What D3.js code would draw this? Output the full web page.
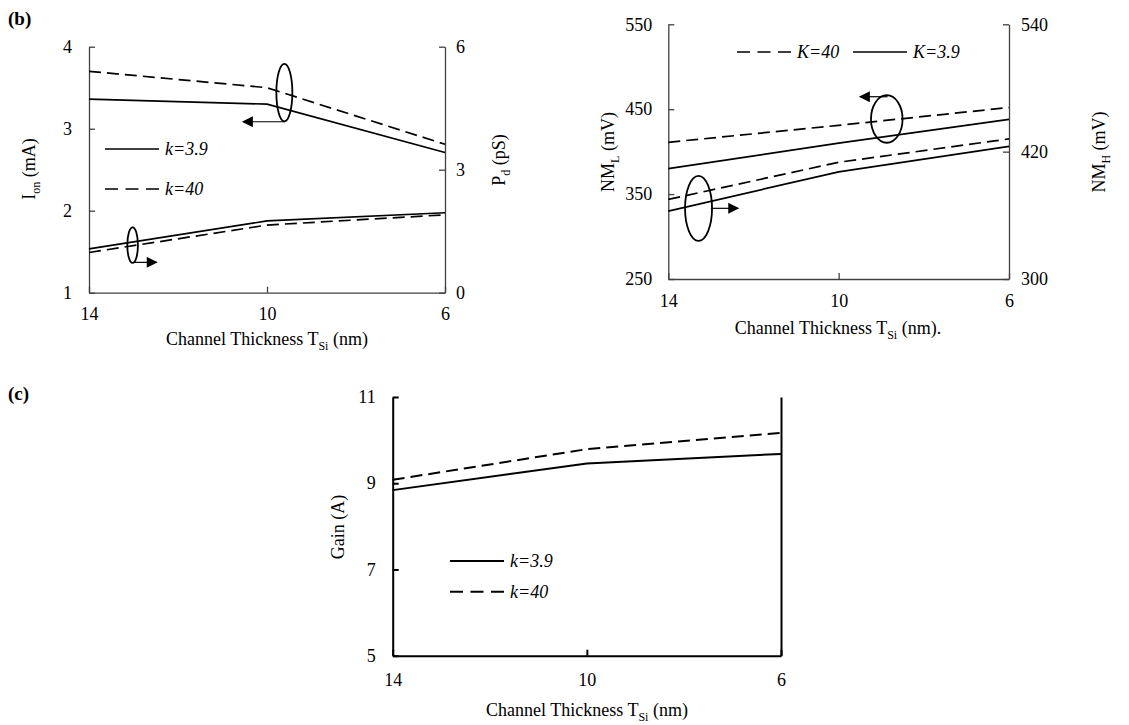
<!DOCTYPE html>
<html>
<head>
<meta charset="utf-8">
<script src="https://cdn.jsdelivr.net/npm/d3@7"></script>
<style>
  body { margin: 0; background: #fff; }
  svg { display: block; }
  text { font-family: "Liberation Serif", "Times New Roman", serif; }
</style>
</head>
<body>
<svg></svg>
<script>
// ---- DATA ----
const thickness = [14, 10, 6];
const xTicks = [14, 10, 6];

// (b) left: on-current (left axis) and delay (right axis)
const ionK39 = [3.36, 3.30, 2.71];
const ionK40 = [3.70, 3.50, 2.81];
const pdK39 = [1.07, 1.75, 1.95];
const pdK40 = [0.98, 1.65, 1.90];
const ionTicks = [1, 2, 3, 4];
const pdTicks = [0, 3, 6];

// (b) right: noise margins
const nmlK40 = [411, 431, 452];
const nmlK39 = [380, 410, 438];
const nmhK40 = [375, 410, 432];
const nmhK39 = [364, 401, 425];
const nmlTicks = [250, 350, 450, 550];
const nmhTicks = [300, 420, 540];

// (c) gain
const gainK39 = [8.84, 9.46, 9.68];
const gainK40 = [9.08, 9.79, 10.17];
const gainTicks = [5, 7, 9, 11];

const svg = d3.select("svg").attr("width", 1129).attr("height", 725);

const FS = 18;
const DASH = "12,6";
const LEG_DASH = "13,7.5";
const fmt = d3.format("d");

svg.append("defs").append("marker")
    .attr("id", "arrow")
    .attr("viewBox", "0 0 10 10")
    .attr("refX", 9).attr("refY", 5)
    .attr("markerUnits", "userSpaceOnUse")
    .attr("markerWidth", 12).attr("markerHeight", 11)
    .attr("orient", "auto")
    .append("path")
    .attr("d", "M0,0L10,5L0,10Z")
    .attr("fill", "#000");

// ---- HELPERS ----
function styleAxis(sel, color, width) {
    sel.attr("font-family", null).attr("font-size", FS);
    sel.select(".domain").attr("stroke", color).attr("stroke-width", width);
    sel.selectAll(".tick line").attr("stroke", color).attr("stroke-width", width);
    sel.selectAll(".tick text").attr("fill", "#000");
}

// parts: [text, isSub]
function richText(g, parts, x, y, rotate) {
    const t = g.append("text")
        .attr("font-size", FS)
        .attr("text-anchor", "middle")
        .attr("transform", rotate ? `translate(${x},${y}) rotate(-90)` : `translate(${x},${y})`);
    parts.forEach(([s, sub]) => {
        t.append("tspan")
            .attr("font-size", sub ? 12 : FS)
            .attr("dy", sub ? 5 : (t.selectAll("tspan").size() > 1 ? -5 : 0))
            .text(s);
    });
    return t;
}

function drawLine(g, x, y, vals, dashed, w) {
    g.append("path")
        .datum(vals)
        .attr("fill", "none")
        .attr("stroke", "#000")
        .attr("stroke-width", w)
        .attr("stroke-dasharray", dashed ? DASH : null)
        .attr("d", d3.line().x((d, i) => x(thickness[i])).y(d => y(d)));
}

function legendItem(g, x0, y0, dashed, label, w) {
    g.append("line")
        .attr("x1", x0).attr("x2", x0 + 54)
        .attr("y1", y0).attr("y2", y0)
        .attr("stroke", "#000").attr("stroke-width", w)
        .attr("stroke-dasharray", dashed ? LEG_DASH : null);
    g.append("text")
        .attr("x", x0 + 60).attr("y", y0 + 6)
        .attr("font-size", FS).attr("font-style", "italic")
        .text(label);
}

function ring(g, cx, cy, rx, ry, ax1, ay, ax2) {
    g.append("ellipse")
        .attr("cx", cx).attr("cy", cy).attr("rx", rx).attr("ry", ry)
        .attr("fill", "none").attr("stroke", "#000").attr("stroke-width", 1.8);
    g.append("line")
        .attr("x1", ax1).attr("y1", ay).attr("x2", ax2).attr("y2", ay)
        .attr("stroke", "#000").attr("stroke-width", 1.2)
        .attr("marker-end", "url(#arrow)");
}

const AX = "#404040";

// ---- PANEL (b) LEFT ----
{
    const g = svg.append("g");
    const x = d3.scaleLinear().domain([14, 6]).range([89, 445]);
    const y = d3.scaleLinear().domain([1, 4]).range([292.7, 46.7]);
    const y2 = d3.scaleLinear().domain([0, 6]).range([292.7, 46.7]);

    g.append("g").attr("transform", "translate(0,292.7)")
        .call(d3.axisBottom(x).tickValues(xTicks).tickFormat(fmt).tickSizeInner(-6).tickSizeOuter(0).tickPadding(15))
        .call(s => styleAxis(s, AX, 1.3));
    g.append("g").attr("transform", "translate(89,0)")
        .call(d3.axisLeft(y).tickValues(ionTicks).tickFormat(fmt).tickSizeInner(-6).tickSizeOuter(0).tickPadding(17))
        .call(s => styleAxis(s, AX, 1.3));
    g.append("g").attr("transform", "translate(445,0)")
        .call(d3.axisRight(y2).tickValues(pdTicks).tickFormat(fmt).tickSizeInner(-6).tickSizeOuter(0).tickPadding(11))
        .call(s => styleAxis(s, AX, 1.3));

    drawLine(g, x, y, ionK40, true, 1.7);
    drawLine(g, x, y, ionK39, false, 1.7);
    drawLine(g, x, y2, pdK40, true, 1.7);
    drawLine(g, x, y2, pdK39, false, 1.7);

    ring(g, x(9.61), y(3.44), 8, 28.7, x(9.6), y(3.085), x(10.54));
    ring(g, x(13.02), y2(1.16), 5.3, 17.8, x(13.0), y2(0.74), x(12.48));

    legendItem(g, 105, 149, false, "k=3.9", 1.7);
    legendItem(g, 105, 189, true, "k=40", 1.7);

    richText(g, [["I"], ["on", true], [" (mA)"]], 35, 169, true);
    richText(g, [["P"], ["d", true], [" (pS)"]], 505, 160, true);
    richText(g, [["Channel Thickness T"], ["Si", true], [" (nm)"]], 267, 345, false);

    svg.append("text").attr("x", 8).attr("y", 25)
        .attr("font-size", 19).attr("font-weight", "bold").text("(b)");
}

// ---- PANEL (b) RIGHT ----
{
    const g = svg.append("g");
    const x = d3.scaleLinear().domain([14, 6]).range([668.3, 1009]);
    const y = d3.scaleLinear().domain([250, 550]).range([279, 24.3]);
    const y2 = d3.scaleLinear().domain([300, 540]).range([279, 24.3]);

    g.append("g").attr("transform", "translate(0,279)")
        .call(d3.axisBottom(x).tickValues(xTicks).tickFormat(fmt).tickSizeInner(-6).tickSizeOuter(0).tickPadding(15))
        .call(s => styleAxis(s, AX, 1.3));
    g.append("g").attr("transform", "translate(668.3,0)")
        .call(d3.axisLeft(y).tickValues(nmlTicks).tickFormat(fmt).tickSizeInner(-6).tickSizeOuter(0).tickPadding(16))
        .call(s => styleAxis(s, AX, 1.3));
    g.append("g").attr("transform", "translate(1009,0)")
        .call(d3.axisRight(y2).tickValues(nmhTicks).tickFormat(fmt).tickSizeInner(-6).tickSizeOuter(0).tickPadding(12))
        .call(s => styleAxis(s, AX, 1.3));

    drawLine(g, x, y, nmlK40, true, 1.7);
    drawLine(g, x, y, nmlK39, false, 1.7);
    drawLine(g, x, y2, nmhK40, true, 1.7);
    drawLine(g, x, y2, nmhK39, false, 1.7);

    ring(g, x(8.87), y(438.5), 15.8, 23.8, x(8.85), y(464.7), x(9.5));
    ring(g, x(13.29), y2(366.6), 13.5, 32.5, x(13.0), y2(366.6), x(12.36));

    legendItem(g, 737, 52, true, "K=40", 1.7);
    legendItem(g, 853, 52, false, "K=3.9", 1.7);

    richText(g, [["NM"], ["L", true], [" (mV)"]], 614, 152, true);
    richText(g, [["NM"], ["H", true], [" (mV)"]], 1105, 152, true);
    richText(g, [["Channel Thickness T"], ["Si", true], [" (nm)."]], 838, 334, false);
}

// ---- PANEL (c) ----
{
    const g = svg.append("g");
    const x = d3.scaleLinear().domain([14, 6]).range([392.7, 781]);
    const y = d3.scaleLinear().domain([5, 11]).range([655.7, 397]);

    g.append("g").attr("transform", "translate(0,655.7)")
        .call(d3.axisBottom(x).tickValues(xTicks).tickFormat(fmt).tickSizeInner(-6).tickSizeOuter(0).tickPadding(18))
        .call(s => styleAxis(s, "#000", 2));
    g.append("g").attr("transform", "translate(392.7,0)")
        .call(d3.axisLeft(y).tickValues(gainTicks).tickFormat(fmt).tickSizeInner(-6).tickSizeOuter(0).tickPadding(17))
        .call(s => styleAxis(s, "#000", 2));
    g.append("g").attr("transform", "translate(781,0)")
        .call(d3.axisRight(y).tickValues([]).tickSizeOuter(0))
        .call(s => styleAxis(s, "#000", 2));

    drawLine(g, x, y, gainK40, true, 2);
    drawLine(g, x, y, gainK39, false, 2);

    legendItem(g, 450, 561, false, "k=3.9", 2);
    legendItem(g, 450, 591.7, true, "k=40", 2);

    richText(g, [["Gain (A)"]], 344, 527, true);
    richText(g, [["Channel Thickness T"], ["Si", true], [" (nm)"]], 587, 716, false);

    svg.append("text").attr("x", 8).attr("y", 400)
        .attr("font-size", 19).attr("font-weight", "bold").text("(c)");
}
</script>
</body>
</html>
